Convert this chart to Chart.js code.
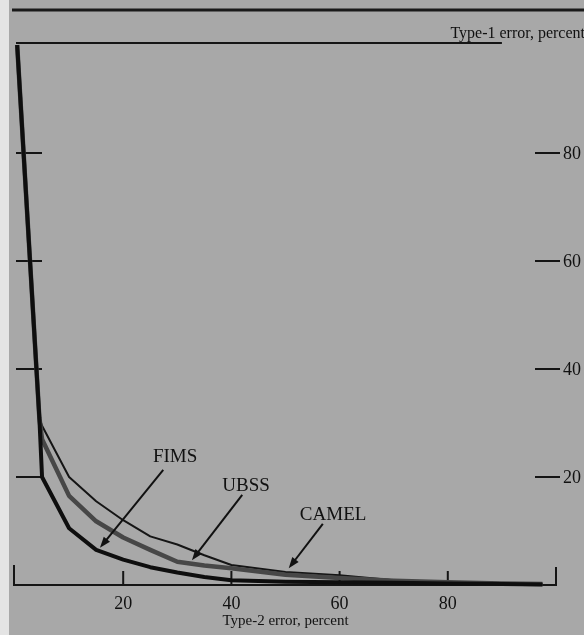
<!DOCTYPE html>
<html>
<head>
<meta charset="utf-8">
<script src="https://cdn.jsdelivr.net/npm/chart.js@4/dist/chart.umd.min.js"></script>
<style>
html, body { margin: 0; padding: 0; background: #a8a8a8; }
canvas { display: block; }
</style>
</head>
<body>
<canvas id="myChart" width="584" height="635"></canvas>
<script>
// Type-2 error (x) and Type-1 error (y) in percent
const typeTwoError = [0.4, 4.5, 5, 10, 15, 20, 25, 30, 35, 40, 50, 60, 70, 80, 90, 97.5];
const fims  = [100, 31, 20, 10.5, 6.5, 4.7, 3.3, 2.3, 1.5, 0.9, 0.6, 0.5, 0.4, 0.3, 0.2, 0.1];
const ubss  = [100, 31, 27, 16.5, 11.8, 8.8, 6.5, 4.3, 3.6, 3.1, 1.9, 1.3, 0.8, 0.5, 0.3, 0.2];
const camel = [100, 31, 29.5, 20, 15.5, 12, 9, 7.5, 5.5, 3.7, 2.4, 1.8, 0.9, 0.5, 0.3, 0.2];
const xTicks = [20, 40, 60, 80];
const yTicks = [20, 40, 60, 80];

// labels with arrows, in data units
const callouts = [
    { text: 'FIMS',  at: [29.6, 23.7], from: [27.4, 21.3], to: [15.7, 6.9] },
    { text: 'UBSS',  at: [42.7, 18.3], from: [42.0, 16.7], to: [32.7, 4.6] },
    { text: 'CAMEL', at: [58.8, 13.0], from: [56.9, 11.3], to: [50.6, 3.1] }
];

const serif = '"Liberation Serif", "DejaVu Serif", serif';
const pts = (ys) => typeTwoError.map((x, i) => ({ x: x, y: ys[i] }));

const framePlugin = {
    id: 'frame',
    beforeDraw(chart) {
        const ctx = chart.ctx;
        ctx.save();
        ctx.fillStyle = '#a8a8a8';
        ctx.fillRect(0, 0, chart.width, chart.height);
        ctx.fillStyle = '#e4e4e4';
        ctx.fillRect(0, 0, 9, chart.height);
        // rule across the top of the page
        ctx.strokeStyle = '#1a1a1a';
        ctx.lineWidth = 3;
        ctx.beginPath();
        ctx.moveTo(12, 10);
        ctx.lineTo(chart.width, 10);
        ctx.stroke();
        ctx.fillStyle = '#111';
        ctx.font = '16px ' + serif;
        ctx.textAlign = 'right';
        ctx.textBaseline = 'alphabetic';
        ctx.fillText('Type-1 error, percent', chart.width + 1, 38);
        ctx.restore();
    },
    beforeDatasetsDraw(chart) {
        const ctx = chart.ctx;
        const xs = chart.scales.x, ys = chart.scales.y;
        const x0 = xs.getPixelForValue(0), x100 = xs.getPixelForValue(100);
        const y0 = ys.getPixelForValue(0), y100 = ys.getPixelForValue(100);
        ctx.save();
        ctx.strokeStyle = '#151515';
        ctx.fillStyle = '#111';
        ctx.lineWidth = 2;
        ctx.beginPath();
        // bottom axis with end ticks
        ctx.moveTo(x0 - 1, y0 - 20);
        ctx.lineTo(x0 - 1, y0);
        ctx.lineTo(x100, y0);
        ctx.lineTo(x100, y0 - 18);
        // top line
        ctx.moveTo(x0 + 1, y100 - 2);
        ctx.lineTo(xs.getPixelForValue(90), y100 - 2);
        xTicks.forEach(v => {
            const px = xs.getPixelForValue(v);
            ctx.moveTo(px, y0);
            ctx.lineTo(px, y0 - 14);
        });
        yTicks.forEach(v => {
            const py = ys.getPixelForValue(v);
            ctx.moveTo(x0 + 1, py);
            ctx.lineTo(x0 + 27, py);
            ctx.moveTo(x100 - 21, py);
            ctx.lineTo(x100 + 4, py);
        });
        ctx.stroke();

        ctx.font = '18px ' + serif;
        ctx.textAlign = 'center';
        ctx.textBaseline = 'middle';
        xTicks.forEach(v => ctx.fillText(String(v), xs.getPixelForValue(v), y0 + 19));
        ctx.textAlign = 'left';
        yTicks.forEach(v => ctx.fillText(String(v), x100 + 7, ys.getPixelForValue(v) + 1));

        ctx.font = '15px ' + serif;
        ctx.textAlign = 'center';
        ctx.fillText('Type-2 error, percent', xs.getPixelForValue(50), y0 + 36);
        ctx.restore();
    },
    afterDatasetsDraw(chart) {
        const ctx = chart.ctx;
        const xs = chart.scales.x, ys = chart.scales.y;
        ctx.save();
        ctx.strokeStyle = '#111';
        ctx.fillStyle = '#111';
        ctx.lineWidth = 2;
        ctx.font = '19px ' + serif;
        ctx.textAlign = 'center';
        ctx.textBaseline = 'middle';
        callouts.forEach(c => {
            ctx.fillText(c.text, xs.getPixelForValue(c.at[0]), ys.getPixelForValue(c.at[1]));
            const ax = xs.getPixelForValue(c.from[0]), ay = ys.getPixelForValue(c.from[1]);
            const bx = xs.getPixelForValue(c.to[0]), by = ys.getPixelForValue(c.to[1]);
            const ang = Math.atan2(by - ay, bx - ax);
            ctx.beginPath();
            ctx.moveTo(ax, ay);
            ctx.lineTo(bx - 6 * Math.cos(ang), by - 6 * Math.sin(ang));
            ctx.stroke();
            ctx.beginPath();
            ctx.moveTo(bx, by);
            ctx.lineTo(bx - 11 * Math.cos(ang) + 4 * Math.sin(ang), by - 11 * Math.sin(ang) - 4 * Math.cos(ang));
            ctx.lineTo(bx - 11 * Math.cos(ang) - 4 * Math.sin(ang), by - 11 * Math.sin(ang) + 4 * Math.cos(ang));
            ctx.closePath();
            ctx.fill();
        });
        ctx.restore();
    }
};

new Chart(document.getElementById('myChart'), {
    type: 'line',
    data: {
        datasets: [
            { label: 'FIMS',  data: pts(fims),  borderColor: '#0e0e0e', borderWidth: 4 },
            { label: 'UBSS',  data: pts(ubss),  borderColor: '#474747', borderWidth: 4.5 },
            { label: 'CAMEL', data: pts(camel), borderColor: '#151515', borderWidth: 2 }
        ]
    },
    options: {
        responsive: false,
        animation: false,
        layout: { padding: { left: 15, right: 28, top: 45, bottom: 50 } },
        elements: {
            point: { radius: 0 },
            line: { tension: 0, fill: false, borderJoinStyle: 'round', borderCapStyle: 'butt' }
        },
        datasets: { line: { clip: false } },
        scales: {
            x: { type: 'linear', min: 0, max: 100, display: false },
            y: { type: 'linear', min: 0, max: 100, display: false }
        },
        plugins: { legend: { display: false }, tooltip: { enabled: false } }
    },
    plugins: [framePlugin]
});
</script>
</body>
</html>
